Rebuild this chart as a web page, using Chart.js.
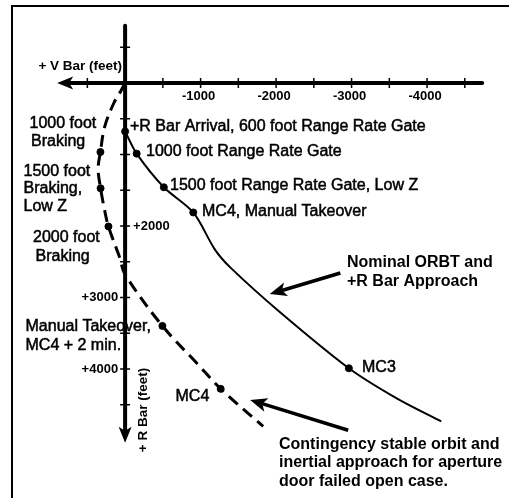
<!DOCTYPE html>
<html>
<head>
<meta charset="utf-8">
<script src="https://cdn.jsdelivr.net/npm/chart.js@4.4.1/dist/chart.umd.min.js"></script>
<style>
  html, body { margin: 0; padding: 0; background: #fff; }
  #wrap { width: 509px; height: 498px; }
</style>
</head>
<body>
<div id="wrap"><canvas id="chart" width="509" height="498"></canvas></div>
<script>
// nominal ORBT and +R bar approach (V bar feet, R bar feet)
const nominalV = [0, -153, -513, -903, -1190, -1396, -2045, -2964, -3604, -4188];
const nominalR = [678, 989, 1459, 1811, 2330, 2582, 3199, 3989, 4414, 4733];
const nominalMarkV = [0, -153, -513, -903, -2964];
const nominalMarkR = [678, 989, 1459, 1811, 3989];

// contingency stable orbit / inertial approach
const contV = [0, 58, 149, 270, 327, 357, 325, 270, 221, 75, 0, -494, -964, -1266, -1829];
const contR = [0, 116, 281, 610, 966, 1199, 1473, 1788, 2007, 2432, 2678, 3397, 3934, 4277, 4801];
const contMarkV = [327, 325, 221, -494, -1266];
const contMarkR = [966, 1473, 2007, 3397, 4277];

// axes
const vAxisEnds = [900, -4730];
const rAxisEnds = [-800, 5030];
const vTicks = [500, -500, -1000, -1500, -2000, -2500, -3000, -3500, -4000, -4500];
const rTicks = [-500, 500, 1000, 1500, 2000, 2500, 3000, 3500, 4000, 4500];
const vTickLabels = [-1000, -2000, -3000, -4000];
const rTickLabels = [2000, 3000, 4000];
const rTickRightSide = [2000];

const FONT = '"Liberation Sans", Arial, sans-serif';

// callouts, placed in pixels
const labels = [
  { t: '+R Bar Arrival, 600 foot Range Rate Gate', x: 130, y: 127 },
  { t: '1000 foot Range Rate Gate', x: 146, y: 152 },
  { t: '1500 foot Range Rate Gate, Low Z', x: 170, y: 186 },
  { t: 'MC4, Manual Takeover', x: 202, y: 212 },
  { t: '1000 foot', x: 29.5, y: 124 },
  { t: 'Braking', x: 31, y: 142 },
  { t: '1500 foot', x: 23.5, y: 172 },
  { t: 'Braking,', x: 23.5, y: 189 },
  { t: 'Low Z', x: 23.5, y: 207 },
  { t: '2000 foot', x: 33, y: 238 },
  { t: 'Braking', x: 35.5, y: 257 },
  { t: 'Manual Takeover,', x: 25.5, y: 327 },
  { t: 'MC4 + 2 min.', x: 25.5, y: 346 },
  { t: 'MC4', x: 175.5, y: 397 },
  { t: 'MC3', x: 362, y: 368 },
  { t: 'Nominal ORBT and', x: 347, y: 263, bold: true },
  { t: '+R Bar Approach', x: 347, y: 282, bold: true },
  { t: 'Contingency stable orbit and', x: 279, y: 445, bold: true },
  { t: 'inertial approach for aperture', x: 279, y: 463, bold: true },
  { t: 'door failed open case.', x: 279, y: 482, bold: true }
];

// pointer arrows (from, to) in feet
const pointers = [
  [[-2851, 2658], [-1916, 2952]],
  [[-2955, 4856], [-1656, 4432]]
];

function pts(vs, rs) {
  return vs.map((v, i) => ({ x: v, y: rs[i] }));
}

function head(ctx, tx, ty, fx, fy, len, half) {
  const a = Math.atan2(ty - fy, tx - fx);
  ctx.save();
  ctx.translate(tx, ty);
  ctx.rotate(a);
  ctx.beginPath();
  ctx.moveTo(0, 0);
  ctx.lineTo(-len, -half);
  ctx.lineTo(-len * 0.75, 0);
  ctx.lineTo(-len, half);
  ctx.closePath();
  ctx.fill();
  ctx.restore();
}

const diagram = {
  id: 'diagram',
  beforeDatasetsDraw(chart) {
    const { ctx, scales: { x, y } } = chart;
    const x0 = x.getPixelForValue(0);
    const y0 = y.getPixelForValue(0);
    ctx.save();
    ctx.strokeStyle = '#000';
    ctx.fillStyle = '#000';

    // frame
    ctx.lineWidth = 2;
    ctx.strokeRect(12, 6, 600, 600);

    // V bar axis, arrow to the left
    const xl = x.getPixelForValue(vAxisEnds[0]);
    const xr = x.getPixelForValue(vAxisEnds[1]);
    ctx.lineWidth = 4;
    ctx.lineCap = 'round';
    ctx.beginPath();
    ctx.moveTo(xr, y0);
    ctx.lineTo(xl + 10, y0);
    ctx.stroke();
    head(ctx, xl, y0, xr, y0, 16, 6.5);

    // R bar axis, arrow down
    const yt = y.getPixelForValue(rAxisEnds[0]);
    const yb = y.getPixelForValue(rAxisEnds[1]);
    ctx.beginPath();
    ctx.moveTo(x0, yt);
    ctx.lineTo(x0, yb - 10);
    ctx.stroke();
    head(ctx, x0, yb, x0, yt, 16, 6.5);

    // tick marks
    ctx.lineWidth = 1.5;
    ctx.lineCap = 'butt';
    ctx.beginPath();
    vTicks.forEach(v => {
      const px = x.getPixelForValue(v);
      ctx.moveTo(px, y0 - 5);
      ctx.lineTo(px, y0 + 5);
    });
    rTicks.forEach(r => {
      const py = y.getPixelForValue(r);
      ctx.moveTo(x0 - 5, py);
      ctx.lineTo(x0 + 5, py);
    });
    ctx.stroke();

    // tick labels
    ctx.font = 'bold 13px ' + FONT;
    ctx.textBaseline = 'middle';
    ctx.textAlign = 'center';
    vTickLabels.forEach(v => {
      ctx.fillText(String(v), x.getPixelForValue(v) - 2, y0 + 14);
    });
    rTickLabels.forEach(r => {
      const right = rTickRightSide.includes(r);
      ctx.textAlign = right ? 'left' : 'right';
      ctx.fillText('+' + r, right ? x0 + 8 : x0 - 7, y.getPixelForValue(r));
    });

    // axis titles
    ctx.font = 'bold 13.5px ' + FONT;
    ctx.textAlign = 'right';
    ctx.fillText('+ V Bar (feet)', x0 - 3, y0 - 17);
    ctx.save();
    ctx.translate(x0 + 18, 410);
    ctx.rotate(-Math.PI / 2);
    ctx.textAlign = 'center';
    ctx.fillText('+ R Bar (feet)', 0, 0);
    ctx.restore();
    ctx.restore();
  },
  afterDatasetsDraw(chart) {
    const { ctx, scales: { x, y } } = chart;
    ctx.save();
    ctx.fillStyle = '#000';
    ctx.strokeStyle = '#000';
    ctx.textBaseline = 'middle';
    ctx.textAlign = 'left';
    labels.forEach(l => {
      ctx.font = (l.bold ? 'bold ' : '') + '16px ' + FONT;
      ctx.fillText(l.t, l.x, l.y);
      if (!l.bold) {
        // the scanned labels print a little heavier than plain weight
        ctx.lineWidth = 0.5;
        ctx.strokeText(l.t, l.x, l.y);
      }
    });

    ctx.lineWidth = 3.5;
    pointers.forEach(([from, to]) => {
      const fx = x.getPixelForValue(from[0]), fy = y.getPixelForValue(from[1]);
      const tx = x.getPixelForValue(to[0]), ty = y.getPixelForValue(to[1]);
      const a = Math.atan2(ty - fy, tx - fx);
      ctx.beginPath();
      ctx.moveTo(fx, fy);
      ctx.lineTo(tx - Math.cos(a) * 10, ty - Math.sin(a) * 10);
      ctx.stroke();
      head(ctx, tx, ty, fx, fy, 17, 7);
    });
    ctx.restore();
  }
};

new Chart(document.getElementById('chart'), {
  type: 'scatter',
  data: {
    datasets: [
      {
        label: 'Nominal ORBT and +R Bar Approach',
        data: pts(nominalV, nominalR),
        showLine: true,
        borderColor: '#000',
        borderWidth: 2,
        tension: 0.3,
        pointRadius: 0
      },
      {
        label: 'Contingency',
        data: pts(contV, contR),
        showLine: true,
        borderColor: '#000',
        borderWidth: 3,
        borderDash: [12, 7],
        tension: 0.35,
        pointRadius: 0
      },
      {
        label: 'Nominal events',
        data: pts(nominalMarkV, nominalMarkR),
        pointRadius: 3.5,
        backgroundColor: '#000',
        borderColor: '#000'
      },
      {
        label: 'Contingency events',
        data: pts(contMarkV, contMarkR),
        pointRadius: 3.5,
        backgroundColor: '#000',
        borderColor: '#000'
      }
    ]
  },
  options: {
    responsive: false,
    animation: false,
    devicePixelRatio: 1,
    events: [],
    layout: { padding: 0 },
    scales: {
      x: { type: 'linear', display: false, reverse: true, min: -5019, max: 1591 },
      y: { type: 'linear', display: false, reverse: true, min: -1089, max: 5733 }
    },
    plugins: {
      legend: { display: false },
      tooltip: { enabled: false }
    }
  },
  plugins: [diagram]
});
</script>
</body>
</html>
